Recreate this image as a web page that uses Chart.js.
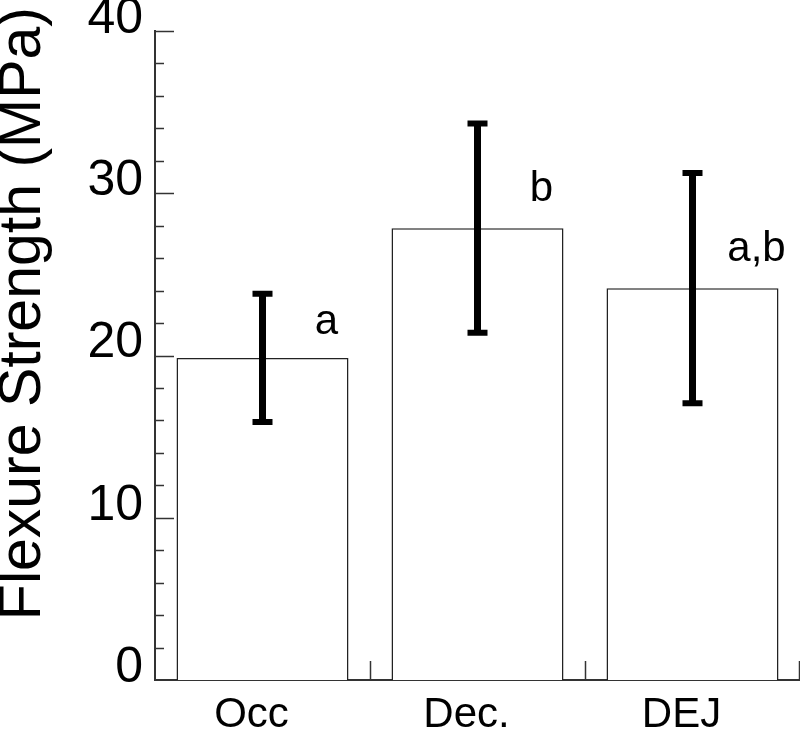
<!DOCTYPE html>
<html>
<head>
<meta charset="utf-8">
<script src="https://cdn.jsdelivr.net/npm/chart.js@4.4.1/dist/chart.umd.min.js"></script>
<style>
  html, body { margin: 0; padding: 0; background: #fff; }
  #wrap { width: 800px; height: 734px; position: relative; }
</style>
</head>
<body>
<div id="wrap"><canvas id="chart"></canvas></div>
<script>
// ---- data ----
const categories = ["Occ", "Dec.", "DEJ"];
const means      = [19.85, 27.85, 24.15];
const errors     = [3.95, 6.45, 7.1];
const letters    = ["a", "b", "a,b"];
const letterY    = [21.3, 29.5, 25.8];   // baseline of the significance letters (MPa)
const yTicks     = [0, 10, 20, 30, 40];
const yTitle     = "Flexure Strength (MPa)";

const FONT = "'Liberation Sans', Arial, Helvetica, sans-serif";
const AXIS = "#333";

// error bars, inward ticks, letters and the y title
const decorations = {
  id: "decorations",
  afterDatasetsDraw(chart) {
    const { ctx, scales: { x, y } } = chart;
    const area = chart.chartArea;
    ctx.save();

    // inward y ticks: majors every 10, minors every 2
    ctx.strokeStyle = AXIS;
    ctx.lineWidth = 1.5;
    for (let v = 2; v <= 40; v += 2) {
      const py = Math.round(y.getPixelForValue(v)) + 0.5;
      const len = v % 10 === 0 ? 19 : 9;
      ctx.beginPath();
      ctx.moveTo(area.left, py);
      ctx.lineTo(area.left + len, py);
      ctx.stroke();
    }

    // x ticks at category boundaries
    for (let i = 0; i < categories.length; i++) {
      const px = i < categories.length - 1
        ? (x.getPixelForValue(i) + x.getPixelForValue(i + 1)) / 2
        : area.right - 1;
      ctx.beginPath();
      ctx.moveTo(Math.round(px) + 0.5, area.bottom);
      ctx.lineTo(Math.round(px) + 0.5, area.bottom - 19);
      ctx.stroke();
    }

    // error bars
    ctx.strokeStyle = "#000";
    means.forEach((m, i) => {
      const px = x.getPixelForValue(i);
      const top = y.getPixelForValue(m + errors[i]);
      const bot = y.getPixelForValue(m - errors[i]);
      ctx.lineWidth = 7;
      ctx.beginPath();
      ctx.moveTo(px, top);
      ctx.lineTo(px, bot);
      ctx.stroke();
      ctx.lineWidth = 6;
      ctx.beginPath();
      ctx.moveTo(px - 10, top); ctx.lineTo(px + 10, top);
      ctx.moveTo(px - 10, bot); ctx.lineTo(px + 10, bot);
      ctx.stroke();
    });

    // significance letters
    ctx.fillStyle = "#000";
    ctx.font = "42px " + FONT;
    ctx.textAlign = "center";
    ctx.textBaseline = "alphabetic";
    letters.forEach((t, i) => {
      ctx.fillText(t, x.getPixelForValue(i) + 64, y.getPixelForValue(letterY[i]));
    });

    // y axis title
    ctx.font = "59px " + FONT;
    ctx.translate(24, 7);
    ctx.rotate(-Math.PI / 2);
    ctx.textAlign = "right";
    ctx.textBaseline = "middle";
    ctx.fillText(yTitle, 0, 0);

    ctx.restore();
  }
};

new Chart(document.getElementById("chart"), {
  type: "bar",
  data: {
    labels: categories,
    datasets: [{
      data: means,
      backgroundColor: "#fff",
      borderColor: "#222",
      borderWidth: 1.5,
      barPercentage: 0.8,
      categoryPercentage: 1.0
    }]
  },
  options: {
    responsive: true,
    maintainAspectRatio: false,
    animation: false,
    layout: { padding: { top: 31, right: 0, left: 0, bottom: 0 } },
    plugins: { legend: { display: false }, tooltip: { enabled: false } },
    scales: {
      x: {
        grid: { display: false, drawTicks: false },
        border: { display: true, color: AXIS, width: 2 },
        ticks: {
          color: "#000",
          font: { family: FONT, size: 42 },
          padding: 10,
          labelOffset: -11,
          maxRotation: 0
        },
        afterFit(s) { s.height = 54; s.paddingLeft = 0; s.paddingRight = 0; }
      },
      y: {
        min: 0,
        max: 40,
        afterBuildTicks(s) { s.ticks = yTicks.map(v => ({ value: v })); },
        grid: { display: false, drawTicks: false },
        border: { display: true, color: AXIS, width: 2 },
        ticks: {
          color: "#000",
          font: { family: FONT, size: 50 },
          padding: 12,
          labelOffset: -12
        },
        afterFit(s) { s.width = 155; s.paddingTop = 0; s.paddingBottom = 0; }
      }
    }
  },
  plugins: [decorations]
});
</script>
</body>
</html>
